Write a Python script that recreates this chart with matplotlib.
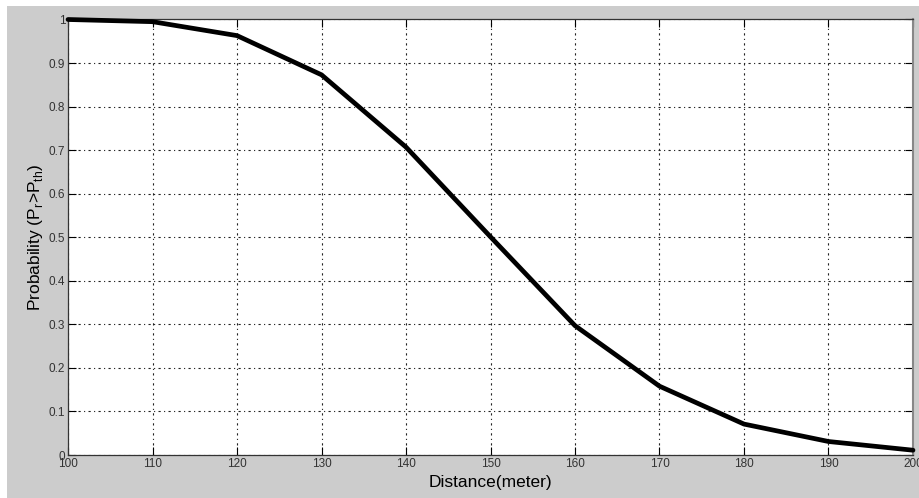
import numpy as np
import matplotlib.pyplot as plt
from matplotlib.patches import Rectangle

plt.rcParams['font.family'] = ['Liberation Sans', 'DejaVu Sans']
plt.rcParams['mathtext.fontset'] = 'custom'
plt.rcParams['mathtext.rm'] = 'Liberation Sans'

distance = [100, 110, 120, 130, 140, 150, 160, 170, 180, 190, 200]
prob = [1.0, 0.995, 0.963, 0.873, 0.707, 0.501, 0.297, 0.158, 0.071, 0.031, 0.011]
xticks = [100, 110, 120, 130, 140, 150, 160, 170, 180, 190, 200]
yticks = [0, 0.1, 0.2, 0.3, 0.4, 0.5, 0.6, 0.7, 0.8, 0.9, 1]
ytick_labels = ['0', '0.1', '0.2', '0.3', '0.4', '0.5', '0.6', '0.7', '0.8', '0.9', '1']

fig = plt.figure(figsize=(9.2, 4.98), dpi=100, facecolor='white')
# grey figure panel, like a matlab window
fig.patches.append(Rectangle((7 / 920, 0), 1 - 7 / 920, 1 - 6 / 498,
                             transform=fig.transFigure, facecolor='#cccccc',
                             edgecolor='none', zorder=-10))

ax = fig.add_axes([68 / 920, 43 / 498, 845 / 920, 435.5 / 498])
ax.plot(distance, prob, color='black', lw=3.4, solid_joinstyle='round',
        solid_capstyle='round', clip_on=False, zorder=3)

ax.set_xlim(100, 200)
ax.set_ylim(0, 1)
ax.set_xticks(xticks)
ax.set_yticks(yticks)
ax.set_yticklabels(ytick_labels)
ax.grid(True, color='#222222', linestyle=(0, (2, 3, 1, 3)), linewidth=0.8)
ax.tick_params(direction='in', length=6, width=0.8, labelsize=8.5,
               labelcolor='#333333', top=True, right=True, pad=2)
for s in ax.spines.values():
    s.set_color('#333333')
    s.set_linewidth(0.9)
ax.spines['right'].set_color('#888888')
ax.spines['right'].set_linewidth(1.5)

ax.set_xlabel('Distance(meter)', fontsize=12.5, labelpad=4)
ax.set_ylabel(r'Probability (P$_\mathregular{r}$>P$_\mathregular{th}$)',
              fontsize=12.5, labelpad=3)

fig.savefig('out.png', dpi=100, facecolor=fig.get_facecolor())
